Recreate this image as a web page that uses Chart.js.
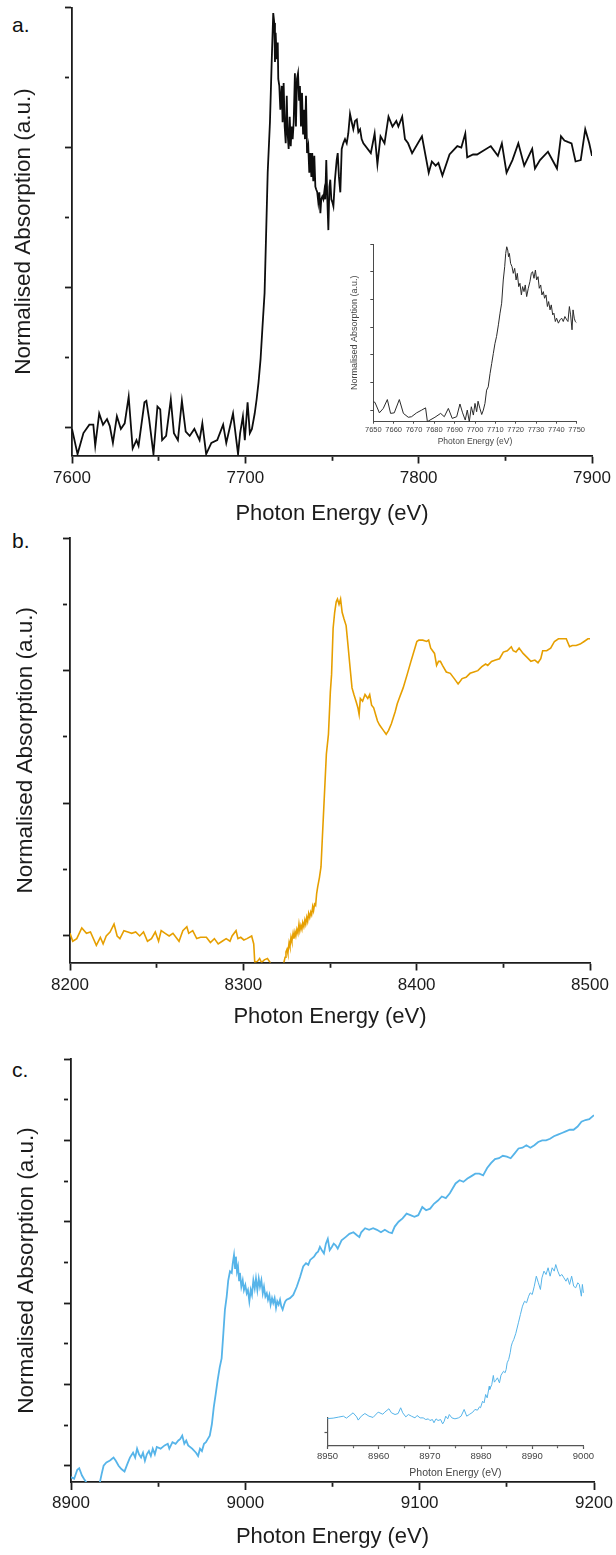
<!DOCTYPE html>
<html>
<head>
<meta charset="utf-8">
<script src="https://cdn.jsdelivr.net/npm/chart.js@4.4.1/dist/chart.umd.min.js"></script>
<style>
  html, body { margin: 0; padding: 0; background: #fff; }
  body { width: 616px; height: 1555px; position: relative; overflow: hidden; font-family: "Liberation Sans", Arial, sans-serif; }
  canvas { position: absolute; }
  .tag { position: absolute; left: 12px; font-size: 21px; line-height: 21px; color: #111; }
</style>
</head>
<body>
<div class="tag" style="top:14px">a.</div>
<div class="tag" style="top:530px">b.</div>
<div class="tag" style="top:1059px">c.</div>

<canvas id="mainA" width="616" height="530" style="left:0;top:0"></canvas>
<canvas id="mainB" width="616" height="500" style="left:0;top:530px"></canvas>
<canvas id="mainC" width="616" height="515" style="left:0;top:1040px"></canvas>
<canvas id="insetA" width="276" height="215" style="left:340px;top:236px"></canvas>
<canvas id="insetC" width="316" height="235" style="left:300px;top:1250px"></canvas>

<script>
// ---- data: [photon energy (eV), normalised absorption (a.u.)] ----
const edgeA = [
  [7600.0,-0.01],[7603.2,-0.19],[7606.6,-0.04],[7610.0,0.02],[7612.3,0.02],[7613.4,-0.13],[7615.7,0.10],
  [7617.9,0.02],[7620.2,0.06],[7621.8,0.01],[7623.6,-0.11],[7625.9,0.08],[7628.2,-0.01],[7630.4,0.03],
  [7632.7,0.22],[7635.0,-0.15],[7637.2,-0.09],[7638.4,-0.13],[7641.8,0.18],[7642.9,0.19],[7644.5,0.06],
  [7647.0,-0.19],[7649.3,0.15],[7650.9,0.13],[7652.0,-0.09],[7654.3,-0.06],[7657.0,0.20],[7658.8,-0.04],
  [7661.1,-0.09],[7663.4,0.19],[7665.6,-0.03],[7667.9,-0.06],[7670.6,-0.01],[7673.6,-0.09],[7675.2,0.03],
  [7677.4,-0.19],[7680.4,-0.11],[7683.8,-0.09],[7687.2,0.02],[7689.0,-0.11],[7692.9,0.10],[7694.0,-0.01],
  [7695.8,-0.19],[7697.0,-0.04],[7698.6,0.08],[7699.7,-0.09],[7701.3,0.18],[7702.6,-0.04],[7703.8,-0.01],
  [7705.4,0.10],[7706.5,0.20],[7707.6,0.32],[7708.8,0.49],[7709.9,0.72],[7711.1,0.96],[7711.9,1.34],
  [7712.9,1.82],[7714.2,2.18],[7715.2,2.61],[7716.1,2.96],[7716.7,2.89],[7717.1,2.61],[7717.5,2.82],
  [7718.1,2.63],[7718.7,2.75],[7719.0,2.49],[7719.6,2.44],[7720.2,2.27],[7721.0,2.44],[7721.5,2.18],
  [7722.1,2.46],[7722.7,2.15],[7723.3,2.03],[7723.9,2.37],[7724.4,2.10],[7725.0,1.99],[7725.6,2.22],
  [7726.2,2.01],[7726.7,2.15],[7727.3,2.06],[7727.9,2.18],[7728.6,2.53],[7729.2,2.15],[7729.8,2.49],
  [7730.4,2.53],[7731.0,2.34],[7731.5,2.44],[7732.1,2.15],[7732.7,2.39],[7733.3,2.10],[7733.8,2.27],
  [7734.4,2.06],[7735.0,2.37],[7735.6,1.96],[7736.3,2.01],[7736.9,1.82],[7737.5,1.96],[7738.1,1.79],
  [7738.6,1.96],[7739.2,1.76],[7739.8,1.94],[7740.4,1.72],[7740.9,1.70],[7741.5,1.68],[7742.1,1.61],
  [7742.7,1.68],[7743.3,1.53],[7743.8,1.63],[7744.4,1.65],[7745.0,1.63],[7745.6,1.69],[7746.1,1.63],
  [7746.7,1.91],[7747.3,1.63],[7747.9,1.41],[7748.5,1.72],[7749.0,1.77],[7749.6,1.63],[7750.2,1.61],
  [7750.8,1.58],[7751.7,1.77],[7752.7,1.91],[7753.3,1.96],[7754.0,1.79],[7754.8,1.68],[7755.6,1.99],
  [7756.5,2.03],[7757.5,2.06],[7758.5,2.03],[7759.4,2.10],[7760.4,2.24],[7761.4,2.18],[7762.3,2.13],
  [7763.3,2.19],[7764.3,2.20],[7765.2,2.11],[7766.2,2.13],[7767.1,2.06],[7768.1,2.03],[7772.4,1.96],
  [7774.6,2.10],[7776.2,1.88],[7778.0,2.08],[7780.3,2.03],[7782.6,2.22],[7784.9,2.15],[7787.1,2.19],
  [7788.3,2.15],[7790.5,2.22],[7792.1,2.06],[7793.9,2.03],[7796.2,1.96],[7801.9,2.08],[7805.8,1.82],
  [7807.6,1.90],[7809.8,1.87],[7811.4,1.89],[7813.7,1.80],[7817.8,1.95],[7822.3,2.01],[7824.6,2.00],
  [7826.9,2.10],[7828.0,1.93],[7831.4,1.95],[7833.7,1.95],[7841.6,2.01],[7845.7,1.94],[7848.0,2.03],
  [7850.7,1.82],[7854.1,1.91],[7857.5,2.03],[7860.9,1.87],[7865.5,1.99],[7867.1,1.85],[7870.0,1.91],
  [7874.6,1.97],[7879.8,1.85],[7882.1,2.08],[7884.1,2.05],[7886.0,2.04],[7888.2,2.03],[7890.5,1.90],
  [7893.5,1.91],[7896.1,2.13],[7898.4,2.03],[7900.0,1.94]
];

const edgeAZoom = [
  [7650.0,0.15],[7650.8,0.14],[7653.0,-0.05],[7654.9,0.03],[7656.9,0.19],[7658.5,-0.06],[7660.3,-0.05],
  [7662.8,0.19],[7664.8,-0.06],[7667.2,-0.13],[7668.8,-0.12],[7671.3,-0.05],[7673.8,0.00],[7675.7,0.04],
  [7676.6,-0.21],[7677.9,-0.18],[7680.3,-0.13],[7683.1,-0.06],[7684.9,-0.12],[7686.9,0.03],[7688.8,-0.15],
  [7691.0,-0.12],[7692.6,0.11],[7693.9,-0.05],[7695.2,-0.18],[7696.2,0.00],[7697.2,-0.21],[7698.2,0.06],
  [7699.2,-0.09],[7700.0,0.12],[7700.8,-0.03],[7701.5,0.16],[7702.4,0.03],[7703.3,-0.08],[7704.1,0.00],
  [7704.9,0.12],[7705.7,0.36],[7706.5,0.42],[7707.4,0.66],[7708.2,0.84],[7709.0,1.02],[7709.8,1.20],
  [7710.6,1.33],[7711.5,1.54],[7712.3,1.75],[7713.1,1.93],[7713.9,2.35],[7714.6,2.59],[7715.1,2.83],
  [7715.6,2.95],[7716.1,2.89],[7716.5,2.77],[7716.9,2.83],[7717.5,2.65],[7718.2,2.59],[7718.8,2.47],
  [7719.5,2.56],[7720.2,2.35],[7720.8,2.47],[7721.5,2.23],[7722.1,2.29],[7722.8,2.08],[7723.4,2.23],
  [7724.1,2.14],[7724.7,2.26],[7725.4,2.05],[7726.2,2.20],[7727.0,2.32],[7727.7,2.47],[7728.3,2.50],
  [7729.0,2.38],[7729.7,2.53],[7730.3,2.35],[7731.0,2.41],[7731.6,2.20],[7732.3,2.26],[7732.9,2.08],
  [7733.6,2.14],[7734.2,2.02],[7734.9,2.08],[7735.6,1.87],[7736.2,1.96],[7736.9,1.81],[7737.5,1.90],
  [7738.2,1.72],[7738.8,1.75],[7739.5,1.60],[7740.1,1.66],[7741.0,1.57],[7741.8,1.63],[7742.6,1.66],
  [7743.4,1.60],[7744.2,1.69],[7745.1,1.63],[7745.7,1.60],[7746.4,1.87],[7747.0,1.72],[7747.7,1.45],
  [7748.2,1.81],[7748.8,1.66],[7749.3,1.60],[7749.9,1.58]
];

const edgeB = [
  [8200.0,0.02],[8201.6,-0.04],[8203.9,-0.02],[8206.8,0.06],[8209.5,0.02],[8211.8,0.03],[8215.2,-0.07],
  [8217.5,-0.01],[8219.1,-0.06],[8220.9,0.00],[8223.1,0.03],[8225.4,0.09],[8227.2,0.00],[8228.8,-0.02],
  [8231.1,0.04],[8233.4,0.03],[8235.6,0.02],[8237.9,0.03],[8240.2,0.00],[8242.4,0.03],[8244.7,-0.04],
  [8247.0,-0.02],[8249.2,0.03],[8251.1,-0.04],[8252.6,0.04],[8254.9,0.02],[8257.2,0.00],[8259.4,0.02],
  [8262.9,-0.04],[8265.1,0.04],[8267.4,0.07],[8268.5,0.02],[8270.8,0.04],[8273.1,-0.02],[8275.3,-0.01],
  [8278.7,-0.01],[8281.0,-0.05],[8283.3,-0.02],[8285.5,-0.06],[8287.8,-0.04],[8290.1,-0.02],[8292.3,-0.04],
  [8293.5,0.00],[8295.8,0.04],[8296.9,-0.02],[8298.5,-0.01],[8300.3,-0.03],[8302.1,-0.02],[8304.8,0.00],
  [8306.0,-0.06],[8306.6,-0.20],[8308.2,-0.19],[8309.4,-0.17],[8310.5,-0.20],[8312.1,-0.18],[8313.9,-0.17],
  [8315.5,-0.20],[8317.5,-0.32],[8321.0,-0.30],[8323.4,-0.20],[8324.1,-0.16],[8324.6,-0.12],[8325.2,-0.10],
  [8325.7,-0.13],[8326.4,-0.05],[8326.9,-0.08],[8327.5,-0.01],[8328.0,-0.04],[8328.7,0.02],[8329.2,-0.02],
  [8329.8,0.03],[8330.3,0.00],[8330.9,0.05],[8331.5,0.02],[8332.1,0.09],[8332.6,0.04],[8333.2,0.08],
  [8333.8,0.05],[8334.3,0.10],[8334.9,0.07],[8335.5,0.12],[8336.0,0.09],[8336.6,0.14],[8337.1,0.11],
  [8337.7,0.17],[8338.3,0.14],[8338.9,0.18],[8339.4,0.16],[8340.0,0.22],[8340.5,0.19],[8341.1,0.24],
  [8341.7,0.23],[8342.3,0.32],[8342.9,0.37],[8343.9,0.44],[8344.8,0.52],[8345.7,0.77],[8346.8,1.07],
  [8347.9,1.37],[8349.1,1.52],[8350.2,1.84],[8350.9,1.97],[8351.8,2.32],[8352.7,2.44],[8353.6,2.52],
  [8354.3,2.54],[8355.2,2.50],[8356.1,2.54],[8357.0,2.44],[8358.1,2.39],[8359.3,2.34],[8360.4,2.19],
  [8361.6,2.02],[8362.7,1.87],[8363.8,1.82],[8365.0,1.77],[8366.1,1.72],[8366.8,1.67],[8367.5,1.79],
  [8368.8,1.77],[8370.2,1.82],[8371.8,1.79],[8372.9,1.82],[8374.0,1.74],[8375.2,1.72],[8376.3,1.67],
  [8377.4,1.62],[8378.6,1.59],[8380.8,1.55],[8382.4,1.52],[8383.8,1.55],[8385.4,1.60],[8387.6,1.69],
  [8388.8,1.75],[8389.9,1.79],[8392.2,1.87],[8394.5,1.97],[8396.7,2.07],[8399.0,2.17],[8400.1,2.22],
  [8401.3,2.23],[8403.5,2.23],[8405.8,2.22],[8406.9,2.23],[8408.1,2.17],[8410.3,2.13],[8411.5,2.04],
  [8412.6,2.07],[8413.7,2.07],[8414.9,2.04],[8417.1,1.99],[8419.4,1.98],[8421.7,1.94],[8423.9,1.90],
  [8425.1,1.92],[8426.2,1.94],[8428.5,1.95],[8430.8,1.98],[8433.0,1.99],[8435.3,2.00],[8437.6,2.03],
  [8439.8,2.05],[8441.0,2.04],[8443.2,2.07],[8445.5,2.08],[8447.8,2.09],[8450.0,2.14],[8452.3,2.15],
  [8454.6,2.18],[8455.7,2.15],[8457.3,2.14],[8459.1,2.17],[8461.4,2.13],[8463.7,2.10],[8465.9,2.07],
  [8468.2,2.08],[8470.0,2.06],[8471.6,2.09],[8472.7,2.15],[8475.0,2.15],[8477.3,2.17],[8479.5,2.22],
  [8481.8,2.24],[8484.1,2.24],[8486.3,2.24],[8488.2,2.18],[8489.8,2.19],[8492.0,2.19],[8494.3,2.20],
  [8496.6,2.22],[8498.8,2.24],[8500.0,2.24]
];

const edgeC = [
  [8900.0,-0.14],[8901.8,-0.16],[8903.6,-0.05],[8904.7,-0.03],[8906.3,-0.12],[8907.4,-0.16],[8909.0,-0.21],
  [8911.5,-0.30],[8914.0,-0.32],[8916.5,-0.21],[8917.6,-0.10],[8918.7,0.00],[8920.3,0.04],[8922.1,0.06],
  [8923.2,0.08],[8924.4,0.10],[8925.7,0.06],[8927.3,0.00],[8928.9,-0.04],[8930.7,-0.07],[8932.3,0.02],
  [8933.8,0.10],[8935.6,0.16],[8936.8,0.10],[8937.9,0.21],[8939.0,0.14],[8940.2,0.10],[8941.3,0.16],
  [8942.4,0.06],[8943.5,0.14],[8944.7,0.18],[8945.8,0.12],[8946.9,0.21],[8948.1,0.14],[8949.2,0.23],
  [8951.4,0.21],[8953.7,0.25],[8955.5,0.27],[8956.4,0.21],[8958.2,0.29],[8960.0,0.27],[8961.6,0.31],
  [8962.7,0.33],[8963.8,0.37],[8965.0,0.27],[8966.1,0.31],[8967.2,0.25],[8969.5,0.21],[8971.7,0.16],
  [8972.9,0.12],[8974.0,0.21],[8975.1,0.18],[8976.3,0.27],[8977.4,0.29],[8978.5,0.33],[8979.6,0.37],
  [8980.8,0.51],[8981.9,0.72],[8983.0,0.88],[8984.1,1.05],[8985.3,1.21],[8986.4,1.32],[8987.4,1.63],
  [8988.3,1.92],[8989.3,2.08],[8990.2,2.28],[8991.2,2.39],[8992.2,2.37],[8992.8,2.49],[8993.5,2.59],
  [8994.1,2.43],[8994.6,2.57],[8995.2,2.39],[8995.8,2.45],[8996.4,2.28],[8996.9,2.37],[8997.7,2.20],
  [8998.5,2.28],[8999.2,2.16],[9000.0,2.22],[9000.8,2.12],[9001.5,2.16],[9002.3,2.02],[9003.1,2.16],
  [9003.8,2.10],[9004.6,2.28],[9005.4,2.18],[9006.1,2.30],[9006.9,2.16],[9007.7,2.30],[9008.4,2.20],
  [9009.2,2.28],[9010.0,2.12],[9010.7,2.20],[9011.5,2.08],[9012.3,2.12],[9013.0,2.04],[9013.8,2.10],
  [9014.5,1.98],[9015.3,2.06],[9016.0,2.00],[9016.8,2.06],[9017.6,1.94],[9018.3,2.02],[9019.1,1.98],
  [9019.9,2.04],[9020.6,1.96],[9021.4,1.92],[9022.2,1.98],[9022.9,2.02],[9023.7,2.04],[9025.6,2.06],
  [9027.5,2.10],[9029.5,2.20],[9031.4,2.32],[9033.2,2.45],[9034.8,2.49],[9036.1,2.47],[9037.2,2.53],
  [9039.4,2.57],[9040.6,2.61],[9041.7,2.63],[9042.8,2.69],[9043.9,2.65],[9045.1,2.61],[9046.2,2.73],
  [9047.3,2.79],[9048.4,2.65],[9049.6,2.69],[9050.7,2.73],[9051.8,2.71],[9053.0,2.67],[9055.2,2.77],
  [9057.5,2.81],[9059.7,2.85],[9062.0,2.87],[9064.2,2.83],[9065.4,2.81],[9066.5,2.87],[9068.7,2.92],
  [9071.0,2.90],[9073.3,2.92],[9075.5,2.90],[9077.8,2.87],[9080.0,2.90],[9082.3,2.87],[9084.1,2.86],
  [9085.7,2.94],[9087.9,3.00],[9090.2,3.04],[9092.5,3.10],[9094.7,3.08],[9097.0,3.06],[9099.2,3.08],
  [9101.5,3.18],[9103.7,3.14],[9106.0,3.16],[9108.2,3.22],[9110.5,3.26],[9112.7,3.31],[9115.0,3.29],
  [9117.3,3.35],[9120.6,3.47],[9122.9,3.51],[9125.1,3.49],[9127.4,3.53],[9129.7,3.56],[9131.9,3.59],
  [9134.2,3.59],[9136.4,3.57],[9138.7,3.66],[9140.9,3.72],[9143.2,3.77],[9145.5,3.78],[9147.7,3.81],
  [9150.0,3.80],[9152.2,3.78],[9154.5,3.84],[9156.7,3.90],[9159.0,3.91],[9161.2,3.94],[9163.5,3.91],
  [9165.8,3.94],[9168.0,3.98],[9170.3,4.00],[9172.5,4.00],[9174.8,4.02],[9177.0,4.05],[9179.3,4.07],
  [9181.6,4.09],[9183.8,4.11],[9186.1,4.13],[9188.3,4.13],[9190.6,4.17],[9192.8,4.23],[9195.1,4.25],
  [9197.3,4.26],[9200.0,4.31]
];

const edgeCZoom = [
  [8950.0,0.96],[8951.1,0.99],[8952.1,1.06],[8953.1,1.13],[8953.7,0.99],[8954.2,1.13],[8955.0,1.37],
  [8955.7,1.08],[8956.0,0.85],[8956.6,1.13],[8957.3,1.32],[8958.1,1.13],[8958.9,1.04],[8959.9,1.42],
  [8960.8,1.27],[8961.2,1.42],[8962.0,1.66],[8962.5,1.37],[8963.2,1.25],[8963.8,1.32],[8964.3,1.73],
  [8964.7,1.37],[8965.3,1.08],[8965.8,1.25],[8966.4,1.13],[8967.1,1.01],[8967.5,1.18],[8968.1,1.01],
  [8968.7,1.01],[8969.2,0.89],[8969.7,0.94],[8970.0,0.82],[8970.5,0.89],[8970.8,0.66],[8971.2,0.94],
  [8971.6,0.82],[8972.1,0.89],[8972.5,0.58],[8972.8,0.77],[8973.1,1.13],[8973.5,0.94],[8973.8,1.25],
  [8974.3,1.01],[8974.9,0.94],[8975.6,1.01],[8976.1,1.13],[8976.7,1.61],[8977.2,1.13],[8977.7,1.25],
  [8978.4,1.42],[8978.8,1.61],[8979.3,1.56],[8979.7,1.80],[8979.9,1.73],[8980.3,2.20],[8980.6,2.08],
  [8980.9,2.68],[8981.2,2.44],[8981.6,3.27],[8981.7,3.04],[8982.1,3.39],[8982.4,4.04],[8982.6,3.56],
  [8982.9,3.70],[8983.2,3.87],[8983.6,3.51],[8983.9,4.06],[8984.4,4.34],[8984.7,4.23],[8984.9,4.46],
  [8985.1,4.94],[8985.4,5.18],[8985.7,5.66],[8985.9,6.13],[8986.1,6.37],[8986.4,6.61],[8986.8,7.05],
  [8987.3,7.80],[8987.7,8.40],[8988.1,8.99],[8988.5,9.34],[8988.9,9.23],[8989.3,9.70],[8989.6,9.94],
  [8990.0,9.82],[8990.4,10.41],[8990.8,11.13],[8991.2,10.66],[8991.6,10.18],[8991.9,11.01],[8992.3,11.49],
  [8992.7,11.25],[8993.1,11.73],[8993.5,11.13],[8993.9,11.73],[8994.3,11.49],[8994.6,11.96],[8995.0,11.49],
  [8995.4,11.13],[8995.8,11.25],[8996.2,11.01],[8996.6,10.77],[8996.9,11.01],[8997.3,10.54],[8997.7,11.13],
  [8998.1,10.41],[8998.5,10.30],[8998.9,10.66],[8999.2,10.54],[8999.6,9.70],[8999.8,10.54],[9000.0,9.94]
];

// tick positions (labels only on the major ones)
const ticksXA = [7600, 7650, 7700, 7750, 7800, 7850, 7900];
const ticksXB = [8200, 8250, 8300, 8350, 8400, 8450, 8500];
const ticksXC = [8900, 8950, 9000, 9050, 9100, 9150, 9200];
const ticksXAZoom = [7650, 7660, 7670, 7680, 7690, 7700, 7710, 7720, 7730, 7740, 7750];
const ticksXCZoom = [8950, 8955, 8960, 8965, 8970, 8975, 8980, 8985, 8990, 8995, 9000];
const ticksY3 = [0, 0.5, 1, 1.5, 2, 2.5, 3];
const ticksY5 = [0, 0.5, 1, 1.5, 2, 2.5, 3, 3.5, 4, 4.5, 5];
const ticksYCZoom = [0];

const X_TITLE = 'Photon Energy (eV)';
const Y_TITLE = 'Normalised Absorption (a.u.)';
const FONT = '"Liberation Sans", Arial, Helvetica, sans-serif';
const INK = '#1c1c1c';

function isStep(v, step) {
  const r = v / step;
  return Math.abs(r - Math.round(r)) < 1e-6;
}

function xAxis(o) {
  return {
    type: 'linear',
    position: 'bottom',
    min: o.min,
    max: o.max,
    afterBuildTicks: (axis) => { axis.ticks = o.ticks.map((value) => ({ value })); },
    afterFit: (axis) => { axis.height = o.height; },
    border: { color: o.color, width: o.width },
    grid: {
      drawOnChartArea: false,
      tickLength: o.tickLength,
      tickColor: o.color,
      tickWidth: o.width,
      tickBorderDash: (ctx) => (ctx.tick && !isStep(ctx.tick.value, o.labelStep)) ? [o.minorLength, 60] : []
    },
    ticks: {
      autoSkip: false,
      maxRotation: 0,
      minRotation: 0,
      padding: o.tickPad,
      color: o.labelColor,
      font: { family: FONT, size: o.labelSize, lineHeight: 1.2 },
      callback: (v) => isStep(v, o.labelStep) ? String(v) : ''
    },
    title: {
      display: true,
      text: X_TITLE,
      color: o.labelColor,
      font: { family: FONT, size: o.titleSize, lineHeight: 1.2 },
      padding: { top: 0, bottom: o.titlePad }
    }
  };
}

function yAxis(o) {
  return {
    type: 'linear',
    position: 'left',
    min: o.min,
    max: o.max,
    afterBuildTicks: (axis) => { axis.ticks = o.ticks.map((value) => ({ value })); },
    afterFit: (axis) => { axis.width = o.width; },
    border: { color: o.color, width: o.lineWidth },
    grid: {
      drawOnChartArea: false,
      tickLength: o.tickLength,
      tickColor: o.color,
      tickWidth: o.lineWidth,
      tickBorderDash: (ctx) => (ctx.tick && o.majorStep && !isStep(ctx.tick.value, o.majorStep)) ? [o.minorLength, 60] : []
    },
    ticks: { display: false },
    title: o.titleSize ? {
      display: true,
      text: Y_TITLE,
      color: o.labelColor,
      font: { family: FONT, size: o.titleSize, lineHeight: 1.2 },
      padding: { top: o.titlePad, bottom: 0 }
    } : { display: false }
  };
}

function drawPanel(id, points, color, lineWidth, padding, scales, clip) {
  return new Chart(document.getElementById(id), {
    type: 'line',
    data: {
      datasets: [{
        data: points.map(([x, y]) => ({ x, y })),
        borderColor: color,
        borderWidth: lineWidth,
        pointRadius: 0,
        tension: 0,
        fill: false,
        clip: clip
      }]
    },
    options: {
      responsive: false,
      animation: false,
      events: [],
      layout: { padding },
      plugins: { legend: { display: false }, tooltip: { enabled: false } },
      scales
    }
  });
}

// a. main
drawPanel('mainA', edgeA, '#0d0d0d', 1.8, { top: 7.5, right: 24, left: 0, bottom: 0 }, {
  x: xAxis({ min: 7600, max: 7900, ticks: ticksXA, labelStep: 100, height: 74.5, color: INK, width: 1.8,
    tickLength: 8, minorLength: 4, tickPad: 5, labelColor: INK, labelSize: 17, titleSize: 22, titlePad: 2.8 }),
  y: yAxis({ min: -0.2, max: 3, ticks: ticksY3, majorStep: 1, width: 72, color: INK, lineWidth: 1.8,
    tickLength: 7, minorLength: 4, labelColor: INK, titleSize: 22.5, titlePad: 10.5 })
});

// b. main
drawPanel('mainB', edgeB, '#E69F00', 1.6, { top: 8, right: 26, left: 0, bottom: 0 }, {
  x: xAxis({ min: 8200, max: 8500, ticks: ticksXB, labelStep: 100, height: 67.5, color: INK, width: 1.8,
    tickLength: 8, minorLength: 4, tickPad: 4.3, labelColor: INK, labelSize: 17, titleSize: 22, titlePad: 0 }),
  y: yAxis({ min: -0.2, max: 3, ticks: ticksY3, majorStep: 1, width: 70, color: INK, lineWidth: 1.8,
    tickLength: 7, minorLength: 4, labelColor: INK, titleSize: 22.5, titlePad: 12 })
});

// c. main
drawPanel('mainC', edgeC, '#56B4E9', 1.8, { top: 19, right: 22, left: 0, bottom: 0 }, {
  x: xAxis({ min: 8900, max: 9200, ticks: ticksXC, labelStep: 100, height: 73, color: INK, width: 1.8,
    tickLength: 8, minorLength: 4, tickPad: 3, labelColor: INK, labelSize: 17, titleSize: 22, titlePad: 4.8 }),
  y: yAxis({ min: -0.2, max: 5, ticks: ticksY5, majorStep: 1, width: 71, color: INK, lineWidth: 1.8,
    tickLength: 7, minorLength: 4, labelColor: INK, titleSize: 22.5, titlePad: 13 })
});

// a. inset (pre-edge zoom)
drawPanel('insetA', edgeAZoom, '#2b2b2b', 1, { top: 8, right: 39.3, left: 0, bottom: 0 }, {
  x: xAxis({ min: 7650, max: 7750, ticks: ticksXAZoom, labelStep: 10, height: 29.3, color: '#4a4a4a', width: 1,
    tickLength: 2, minorLength: 2, tickPad: 1.8, labelColor: '#444', labelSize: 7.5, titleSize: 8.5, titlePad: 3.9 }),
  y: yAxis({ min: -0.21, max: 3, ticks: ticksY3, majorStep: 0, width: 33.3, color: '#4a4a4a', lineWidth: 1,
    tickLength: 3, minorLength: 3, labelColor: '#444', titleSize: 9, titlePad: 9.6 })
});

// c. inset (pre-edge zoom, curve runs above its short axis)
drawPanel('insetC', edgeCZoom, '#56B4E9', 1, { top: 168, right: 32.6, left: 0, bottom: 0 }, {
  x: xAxis({ min: 8950, max: 9000, ticks: ticksXCZoom, labelStep: 10, height: 39, color: '#555', width: 1.2,
    tickLength: 3, minorLength: 2, tickPad: 2, labelColor: '#444', labelSize: 9.5, titleSize: 10.5, titlePad: 6 }),
  y: yAxis({ min: -1, max: 1, ticks: ticksYCZoom, majorStep: 0, width: 27.5, color: '#555', lineWidth: 1.2,
    tickLength: 3, minorLength: 3, labelColor: '#444', titleSize: 0 })
}, false);
</script>
</body>
</html>
